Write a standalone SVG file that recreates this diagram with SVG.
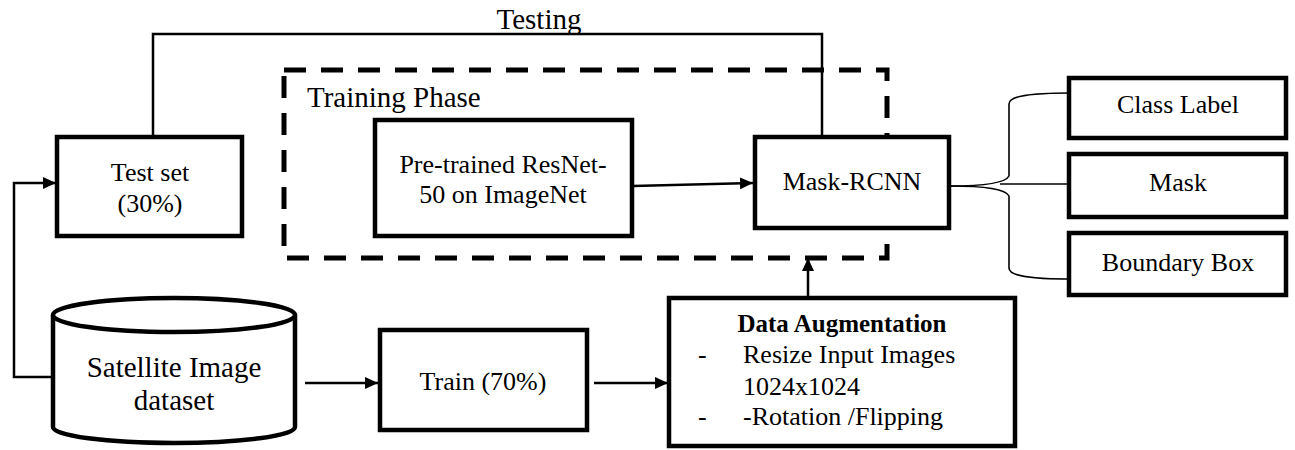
<svg xmlns="http://www.w3.org/2000/svg" width="1295" height="450" viewBox="0 0 1295 450">
<defs>
<style>
.box{fill:#fff;stroke:#000;stroke-width:4.5}
.t{font-family:"Liberation Serif","Times New Roman",serif;font-size:26px;fill:#000}
.big{font-size:29px}
.c{text-anchor:middle}
.ln{fill:none;stroke:#000;stroke-width:2.5}
.br{fill:none;stroke:#000;stroke-width:1.6}
</style>
<marker id="ah" markerUnits="userSpaceOnUse" markerWidth="13" markerHeight="12" refX="13" refY="6" orient="auto">
<path d="M0,0 L13,6 L0,12 z" fill="#000"/>
</marker>
</defs>
<rect width="1295" height="450" fill="#fff"/>

<g id="training-phase">
<rect x="284" y="70" width="603" height="188" fill="none" stroke="#000" stroke-width="5" stroke-dasharray="22,15"/>
<text class="t big" x="307" y="107">Training Phase</text>
</g>

<g id="connectors">
<path class="ln" d="M153,137 L153,34 L822,34 L822,137"/>
<path class="ln" d="M633,186 L753,183" marker-end="url(#ah)"/>
<path class="ln" d="M53,377 L14,377 L14,183 L56,183" marker-end="url(#ah)"/>
<path class="ln" d="M305,383 L378,383" marker-end="url(#ah)"/>
<path class="ln" d="M594,383 L668,383" marker-end="url(#ah)"/>
<path class="ln" d="M808,297 L808,258" marker-end="url(#ah)"/>
<path class="br" d="M950,186 C978,186 1005,184 1009,176 L1009,104 C1009,96 1030,93 1069,93"/>
<path class="br" d="M950,186 C978,186 1005,188 1009,196 L1009,268 C1009,276 1030,279 1069,279"/>
<path class="br" d="M1000,184 L1069,184"/>
<text class="t big c" x="539" y="29">Testing</text>
</g>

<g id="test-set">
<rect class="box" x="57" y="137" width="185" height="99"/>
<text class="t c" x="150" y="181">Test set</text>
<text class="t c" x="150" y="212">(30%)</text>
</g>

<g id="pretrained">
<rect class="box" x="375" y="120" width="257" height="116"/>
<text class="t c" x="503" y="173">Pre-trained ResNet-</text>
<text class="t c" x="503" y="203">50 on ImageNet</text>
</g>

<g id="mask-rcnn">
<rect class="box" x="755" y="137" width="194" height="91"/>
<text class="t c" x="852" y="190">Mask-RCNN</text>
</g>

<g id="class-label">
<rect class="box" x="1069" y="78" width="217" height="60"/>
<text class="t c" x="1178" y="113">Class Label</text>
</g>

<g id="mask">
<rect class="box" x="1069" y="154" width="217" height="63"/>
<text class="t c" x="1178" y="191">Mask</text>
</g>

<g id="boundary-box">
<rect class="box" x="1069" y="233" width="217" height="62"/>
<text class="t c" x="1178" y="271">Boundary Box</text>
</g>

<g id="dataset">
<path class="box" d="M53,315 L53,427 A121,16 0 0 0 295,427 L295,315"/>
<ellipse class="box" cx="174" cy="315" rx="121" ry="17"/>
<text class="t big c" x="174" y="377">Satellite Image</text>
<text class="t big c" x="174" y="410">dataset</text>
</g>

<g id="train">
<rect class="box" x="380" y="330" width="207" height="100"/>
<text class="t c" x="483" y="390">Train (70%)</text>
</g>

<g id="data-augmentation">
<rect class="box" x="669" y="298" width="346" height="148"/>
<text class="t c" x="842" y="332" style="font-weight:bold;font-size:25px">Data Augmentation</text>
<text class="t" x="698" y="363">-</text>
<text class="t" x="743" y="363">Resize Input Images</text>
<text class="t" x="743" y="395">1024x1024</text>
<text class="t" x="698" y="425">-</text>
<text class="t" x="743" y="425">-Rotation /Flipping</text>
</g>
</svg>
